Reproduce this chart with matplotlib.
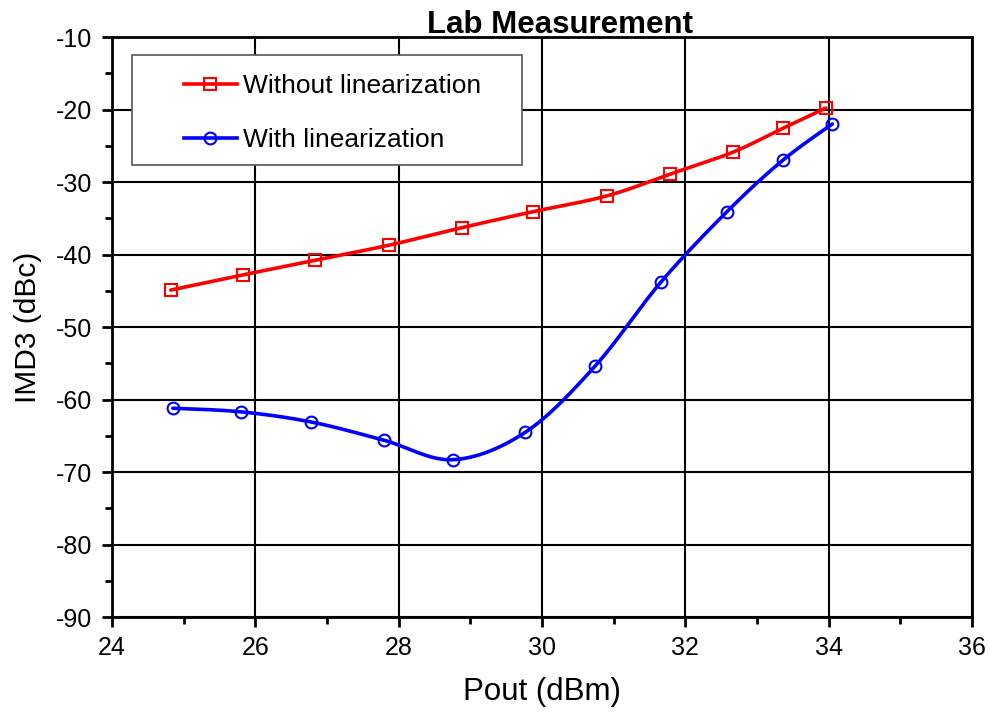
import numpy as np
import matplotlib
matplotlib.use("Agg")
import matplotlib.pyplot as plt
from matplotlib.lines import Line2D
from matplotlib.patches import Rectangle

plt.rcParams['font.family'] = ['Liberation Sans', 'DejaVu Sans']
plt.rcParams['axes.unicode_minus'] = False

x_without = [24.82, 25.83, 26.83, 27.87, 28.88, 29.87, 30.91, 31.79, 32.66, 33.36, 33.96]
y_without = [-44.9, -42.8, -40.8, -38.7, -36.3, -34.1, -31.9, -28.9, -25.9, -22.6, -19.8]
x_with = [24.85, 25.80, 26.78, 27.79, 28.76, 29.77, 30.74, 31.66, 32.58, 33.36, 34.05]
y_with = [-61.2, -61.7, -63.1, -65.6, -68.3, -64.5, -55.4, -43.8, -34.1, -27.0, -22.0]

label_without = "Without linearization"
label_with = "With linearization"
title = "Lab Measurement"
xlabel = "Pout (dBm)"
ylabel = "IMD3 (dBc)"


def smooth(xs, ys, n=30, tension=0.5):
    p = np.column_stack([xs, ys]).astype(float)
    p = np.vstack([p[0], p, p[-1]])
    out = []
    for i in range(1, len(p) - 2):
        p0, p1, p2, p3 = p[i - 1], p[i], p[i + 1], p[i + 2]
        m1 = tension * (p2 - p0)
        m2 = tension * (p3 - p1)
        t = np.linspace(0, 1, n)[:, None]
        h00 = 2 * t**3 - 3 * t**2 + 1
        h10 = t**3 - 2 * t**2 + t
        h01 = -2 * t**3 + 3 * t**2
        h11 = t**3 - t**2
        out.append(h00 * p1 + h10 * m1 + h01 * p2 + h11 * m2)
    c = np.vstack(out)
    return c[:, 0], c[:, 1]


fig = plt.figure(figsize=(9.9, 7.13), dpi=100)
ax = fig.add_axes([0.1131, 0.1346, 0.8687, 0.8135])

LW = 2.6
MS = 8.5
MEW = 1.5
for xs, ys, col, mk in [(x_without, y_without, '#ff0000', 's'), (x_with, y_with, '#0000ff', 'o')]:
    sx, sy = smooth(xs, ys)
    ax.plot(sx, sy, color=col, lw=LW, zorder=3, solid_capstyle='round')
    ax.plot(xs, ys, ls='none', marker=mk, ms=MS, mfc='none', mec=col, mew=MEW, zorder=4)

ax.set_xlim(24, 36)
ax.set_ylim(-90, -10)
ax.set_xticks(np.arange(24, 37, 2))
ax.set_xticks(np.arange(25, 36, 2), minor=True)
ax.set_yticks(np.arange(-90, -9, 10))
ax.set_yticks(np.arange(-85, -10, 10), minor=True)
ax.grid(True, which='major', color='black', lw=1.5)
ax.set_axisbelow(True)
for s in ax.spines.values():
    s.set_linewidth(2)
ax.tick_params(which='major', direction='out', length=7, width=2, labelsize=18, pad=7)
ax.tick_params(which='minor', direction='out', length=5, width=2)

ax.set_xlabel(xlabel, fontsize=22.5, labelpad=12)
ax.set_ylabel(ylabel, fontsize=21.5, labelpad=10.5)
ax.text(0.521, 1.007, title, transform=ax.transAxes, ha='center', va='baseline',
        fontsize=22.5, fontweight='bold')

# legend frame
frame = Rectangle((0.0233, 0.7793), 0.4534, 0.1897, transform=ax.transAxes,
                  facecolor='white', edgecolor='#555555', lw=1.2, zorder=5)
ax.add_patch(frame)

handles = [
    Line2D([], [], color='#ff0000', lw=LW, marker='s', ms=MS, mfc='none', mec='#ff0000', mew=MEW),
    Line2D([], [], color='#0000ff', lw=LW, marker='o', ms=MS, mfc='none', mec='#0000ff', mew=MEW),
]
leg = ax.legend(handles, [label_without, label_with], loc='center left',
                bbox_to_anchor=(0.0837, 0.869), fontsize=19, frameon=False,
                borderpad=0, labelspacing=1.15, handlelength=2.0, handletextpad=0.25,
                borderaxespad=0)
leg.set_zorder(6)

fig.savefig("out.png", dpi=100)
